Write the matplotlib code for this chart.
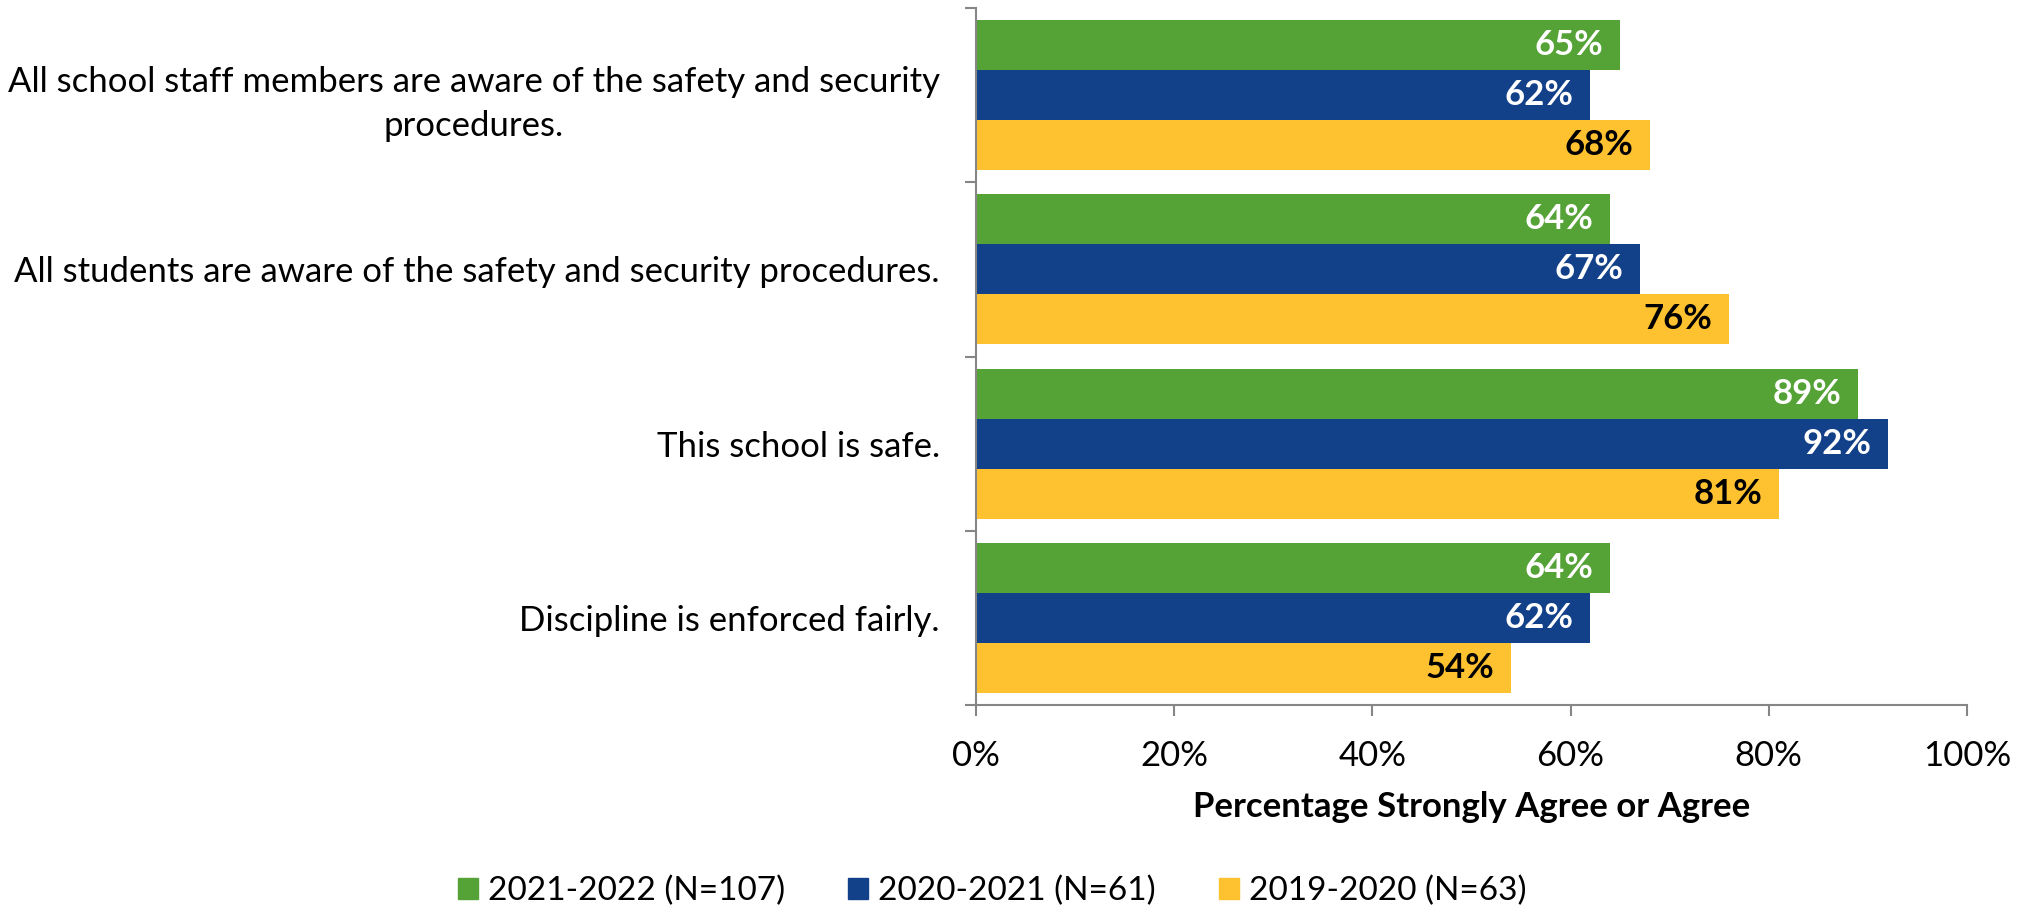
import matplotlib.pyplot as plt
import matplotlib.patches as mpatches
from matplotlib.ticker import FixedLocator
import numpy as np

plt.rcParams["font.family"] = ["Lato", "DejaVu Sans"]

# data
questions = [
    "All school staff members are aware of the safety and security\nprocedures.",
    "All students are aware of the safety and security procedures.",
    "This school is safe.",
    "Discipline is enforced fairly.",
]
years = ["2021-2022 (N=107)", "2020-2021 (N=61)", "2019-2020 (N=63)"]
pct_2122 = [65, 64, 89, 64]
pct_2021 = [62, 67, 92, 62]
pct_1920 = [68, 76, 81, 54]

series = [pct_2122, pct_2021, pct_1920]
colors = ["#55A237", "#134189", "#FEC130"]
label_colors = ["white", "white", "black"]

FS = 25

fig = plt.figure(figsize=(20.28, 9.09), dpi=100)
ax = fig.add_axes([976 / 2028, 1 - 705 / 909, (1967 - 976) / 2028, (705 - 8) / 909])

y = np.arange(len(questions))
h = 0.287
for k, (vals, c, lc) in enumerate(zip(series, colors, label_colors)):
    pos = y + (k - 1) * h
    ax.barh(pos, vals, height=h, color=c, label=years[k])
    for p, v in zip(pos, vals):
        ax.annotate(f"{v}%", (v, p), xytext=(-12, 0), textcoords="offset points",
                    ha="right", va="center", color=lc, fontsize=FS, fontweight="bold")

ax.set_xlim(0, 100)
ax.set_ylim(len(questions) - 0.5, -0.5)
ax.set_xticks(np.arange(0, 101, 20))
ax.set_xticklabels([f"{t}%" for t in range(0, 101, 20)], fontsize=FS)
ax.set_yticks(y)
ax.set_yticklabels(questions, fontsize=FS, multialignment="center", linespacing=1.45)
ax.yaxis.set_major_locator(FixedLocator(y))
ax.yaxis.set_minor_locator(FixedLocator(np.arange(-0.5, len(questions), 1)))
ax.tick_params(axis="y", which="major", length=0, pad=26)
ax.tick_params(axis="y", which="minor", length=8, color="#868686", width=1.5)
ax.tick_params(axis="x", length=8, color="#868686", width=1.5, pad=17)

for s in ["top", "right"]:
    ax.spines[s].set_visible(False)
for s in ["left", "bottom"]:
    ax.spines[s].set_color("#868686")
    ax.spines[s].set_linewidth(1.5)

ax.set_xlabel("Percentage Strongly Agree or Agree", fontsize=FS, fontweight="bold", labelpad=14)

handles = [mpatches.Patch(color=c, label=l) for c, l in zip(colors, years)]
fig.legend(handles=handles, loc="center", bbox_to_anchor=(992 / 2028, 0.02), ncol=3,
           frameon=False, fontsize=24, handlelength=0.6, handleheight=0.6,
           handletextpad=0.3, columnspacing=1.9)

fig.savefig("out.png", dpi=100)
